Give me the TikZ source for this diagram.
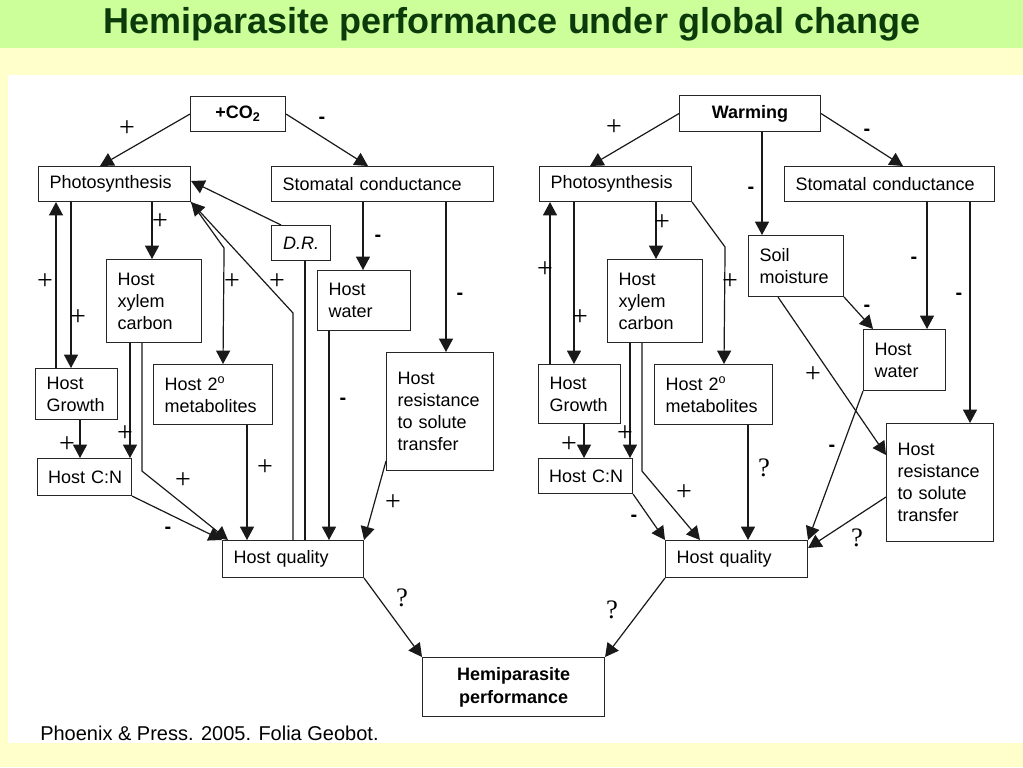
\documentclass[tikz,border=0pt]{standalone}
\usepackage{fontspec}
\setmainfont{Liberation Sans}
\newfontfamily\serifx{Liberation Serif}
\usetikzlibrary{arrows.meta,calc}
\definecolor{titlegreen}{HTML}{CCFF99}
\definecolor{paleyellow}{HTML}{FFFFCC}
\definecolor{titletext}{HTML}{0B3A0B}
\begin{document}
\begin{tikzpicture}[x=0.75pt,y=-0.75pt,
  box/.style={draw=black!85, line width=0.8pt, anchor=north west, inner xsep=8.25pt, inner ysep=0pt, align=left, font=\fontsize{13.5}{16.5}\selectfont},
  cbox/.style={box, align=center, font=\bfseries\fontsize{13.5}{17}\selectfont},
  arr/.style={draw=black!90, line width=0.9pt, -{Triangle[length=10pt,width=10.5pt]}},
  ln/.style={draw=black!90, line width=0.9pt},
  pl/.style={font=\serifx\fontsize{21}{21}\selectfont, inner sep=0pt},
  mi/.style={font=\bfseries\fontsize{15}{15}\selectfont, inner sep=0pt},
  qm/.style={font=\serifx\fontsize{20}{20}\selectfont, inner sep=0pt},
]
\useasboundingbox (0,0) rectangle (1023,767);
% backgrounds
\fill[paleyellow] (0,0) rectangle (1023,767);
\fill[titlegreen] (0,0) rectangle (1023,48);
\fill[white] (8,75) rectangle (1023,743);
\node[font=\bfseries\fontsize{27}{27}\selectfont, text=titletext] (title) at (512,24) {Hemiparasite performance under global change};

% ---------- left diagram ----------
\node[cbox, text width=54.75pt, minimum height=26.25pt] (co2L) at (190,96) {+CO\textsubscript{2}};
\node[box, text width=97.5pt, minimum height=26.25pt] (photoL) at (38,166) {Photosynthesis};
\node[box, text width=150pt, minimum height=26.25pt] (stomL) at (271,166) {Stomatal conductance};
\node[box, align=center, text width=32.25pt, minimum height=26.25pt, inner xsep=6pt] (drL) at (271,225) {\itshape D.R.};
\node[box, text width=54.75pt, minimum height=62.25pt] (xylL) at (106,259) {Host\\xylem\\carbon};
\node[box, text width=53.25pt, minimum height=45pt] (waterL) at (317,270) {Host\\water};
\node[box, text width=72.75pt, minimum height=45pt] (metL) at (153,364) {Host 2\textsuperscript{o}\\metabolites};
\node[box, text width=63.75pt, minimum height=88.5pt] (resL) at (386,352) {Host\\resistance\\to solute\\transfer\\[10pt]};
\node[box, text width=45pt, minimum height=38.25pt] (growL) at (35,368) {Host\\Growth};
\node[box, text width=62.5pt, minimum height=27.75pt, inner xsep=4pt] (cnL) at (37,458) {\hspace*{4pt}Host C:N};
\node[box, text width=89.25pt, minimum height=27.75pt] (hqL) at (222,540) {Host quality};

% ---------- right diagram ----------
\node[cbox, text width=89.25pt, minimum height=27pt] (warm) at (679,95) {Warming};
\node[box, text width=97.5pt, minimum height=26.25pt] (photoR) at (539,166) {Photosynthesis};
\node[box, text width=141pt, minimum height=26.25pt] (stomR) at (784,166) {Stomatal conductance};
\node[box, text width=54.75pt, minimum height=45.75pt] (soil) at (748,235) {Soil\\moisture};
\node[box, text width=54.75pt, minimum height=62.25pt] (xylR) at (607,259) {Host\\xylem\\carbon};
\node[box, text width=45pt, minimum height=45.75pt] (waterR) at (863,329) {Host\\water};
\node[box, text width=72pt, minimum height=45pt] (metR) at (654,364) {Host 2\textsuperscript{o}\\metabolites};
\node[box, text width=63.75pt, minimum height=88.5pt] (resR) at (886,423) {Host\\resistance\\to solute\\transfer\\[10pt]};
\node[box, text width=45pt, minimum height=44.25pt] (growR) at (538,364) {Host\\Growth};
\node[box, text width=62.5pt, minimum height=26.25pt, inner xsep=4pt] (cnR) at (538,458) {\hspace*{4pt}Host C:N};
\node[box, text width=90pt, minimum height=27.75pt] (hqR) at (665,540) {Host quality};

\node[cbox, text width=120pt, minimum height=44.25pt] (hemi) at (422,657) {Hemiparasite\\performance};
\node[anchor=west, font=\fontsize{15}{15}\selectfont, inner sep=0pt] (cite) at (40,733) {Phoenix \& Press. 2005. Folia Geobot.};

% ---------- left connectors ----------
\draw[arr] (co2L.west) -- ($(photoL.north west)+(62,0)$);
\draw[arr] (co2L.east) -- ($(stomL.north west)+(97,0)$);
\draw[arr] ($(photoL.south west)+(114,0)$) -- ($(xylL.north west)+(46,0)$);
\draw[arr] ($(growL.north west)+(21,0)$) -- ($(photoL.south west)+(18,0)$);
\draw[arr] ($(photoL.south west)+(33,0)$) -- ($(growL.north west)+(36,0)$);
\draw[arr] ($(drL.north west)+(10,0)$) -- ($(photoL.north east)+(0,15)$);
\draw[arr] (photoL.south east) -- ($(photoL.south east)+(33,46)$) -- ($(metL.north west)+(70,0)$);
\draw[arr] ($(hqL.north west)+(71,0)$) -- ($(hqL.north west)+(71,-227)$) -- (photoL.south east);
\draw[ln] ($(drL.south west)+(34,0)$) -- ($(hqL.north west)+(83,0)$);
\draw[arr] ($(stomL.south west)+(92,0)$) -- ($(waterL.north west)+(46,0)$);
\draw[arr] ($(stomL.south west)+(175,0)$) -- ($(resL.north west)+(60,0)$);
\draw[arr] ($(waterL.south west)+(12,0)$) -- ($(hqL.north west)+(107,0)$);
\draw[arr] ($(resL.south west)+(0,-10)$) -- (hqL.north east);
\draw[arr] ($(metL.south west)+(94,0)$) -- ($(hqL.north west)+(25,0)$);
\draw[arr] ($(xylL.south west)+(24,0)$) -- ($(cnL.north west)+(93,0)$);
\draw[arr] ($(xylL.south west)+(36,0)$) -- ($(xylL.south west)+(36,128)$) -- ($(hqL.north west)+(6,0)$);
\draw[arr] ($(growL.south west)+(45,0)$) -- ($(cnL.north west)+(43,0)$);
\draw[arr] (cnL.south east) -- (hqL.north west);
\draw[arr] (hqL.south east) -- (hemi.north west);

% ---------- right connectors ----------
\draw[arr] (warm.west) -- ($(photoR.north west)+(51,0)$);
\draw[arr] (warm.east) -- ($(stomR.north west)+(119,0)$);
\draw[arr] ($(warm.south west)+(83,0)$) -- ($(soil.north west)+(14,0)$);
\draw[arr] ($(photoR.south west)+(117,0)$) -- ($(xylR.north west)+(49,0)$);
\draw[arr] ($(growR.north west)+(12,0)$) -- ($(photoR.south west)+(11,0)$);
\draw[arr] ($(photoR.south west)+(35,0)$) -- ($(growR.north west)+(36,0)$);
\draw[arr] (photoR.south east) -- ($(photoR.south east)+(33,45)$) -- ($(metR.north west)+(70,0)$);
\draw[arr] ($(stomR.south west)+(143,0)$) -- ($(waterR.north west)+(64,0)$);
\draw[arr] ($(stomR.south west)+(186,0)$) -- ($(resR.north west)+(84,0)$);
\draw[arr] (soil.south east) -- ($(waterR.north west)+(10,0)$);
\draw[arr] ($(soil.south west)+(30,0)$) -- ($(resR.north west)+(0,32)$);
\draw[arr] (waterR.south west) -- (hqR.north east);
\draw[arr] ($(resR.north west)+(0,74)$) -- ($(hqR.north east)+(0,8)$);
\draw[arr] ($(metR.south west)+(94,0)$) -- ($(hqR.north west)+(83,0)$);
\draw[arr] ($(xylR.south west)+(23,0)$) -- ($(cnR.north west)+(92,0)$);
\draw[arr] ($(xylR.south west)+(35,0)$) -- ($(xylR.south west)+(35,128)$) -- ($(hqR.north west)+(35,0)$);
\draw[arr] ($(growR.south west)+(46,0)$) -- ($(cnR.north west)+(46,0)$);
\draw[arr] (cnR.south east) -- (hqR.north west);
\draw[arr] (hqR.south west) -- (hemi.north east);

% ---------- left labels ----------
\node[pl] (lp1) at (127,129) {+};
\node[mi] (lm1) at (322,120) {-};
\node[pl] (lp2) at (160,222) {+};
\node[pl] (lp3) at (45,282) {+};
\node[pl] (lp4) at (78,318) {+};
\node[pl] (lp5) at (232,282) {+};
\node[pl] (lp6) at (277,282) {+};
\node[mi] (lm2) at (378,238) {-};
\node[mi] (lm3) at (460,296) {-};
\node[mi] (lm4) at (343,401) {-};
\node[pl] (lp7) at (125,434) {+};
\node[pl] (lp8) at (67,445) {+};
\node[pl] (lp9) at (183,481) {+};
\node[pl] (lp10) at (265,468) {+};
\node[mi] (lm5) at (168,530) {-};
\node[pl] (lp11) at (393,503) {+};
\node[qm] (lq1) at (402,598) {?};

% ---------- right labels ----------
\node[pl] (rp1) at (614,128) {+};
\node[mi] (rm1) at (867,132) {-};
\node[mi] (rm2) at (751,190) {-};
\node[pl] (rp2) at (662,223) {+};
\node[pl] (rp3) at (545,270) {+};
\node[pl] (rp4) at (580,318) {+};
\node[pl] (rp5) at (730,282) {+};
\node[mi] (rm3) at (914,260) {-};
\node[mi] (rm4) at (959,296) {-};
\node[mi] (rm5) at (867,308) {-};
\node[pl] (rp6) at (813,375) {+};
\node[mi] (rm6) at (832,448) {-};
\node[qm] (rq1) at (857,538) {?};
\node[qm] (rq2) at (764,468) {?};
\node[pl] (rp7) at (684,493) {+};
\node[mi] (rm7) at (634,518) {-};
\node[pl] (rp8) at (569,445) {+};
\node[pl] (rp9) at (625,434) {+};
\node[qm] (rq3) at (612,610) {?};
\end{tikzpicture}
\end{document}
